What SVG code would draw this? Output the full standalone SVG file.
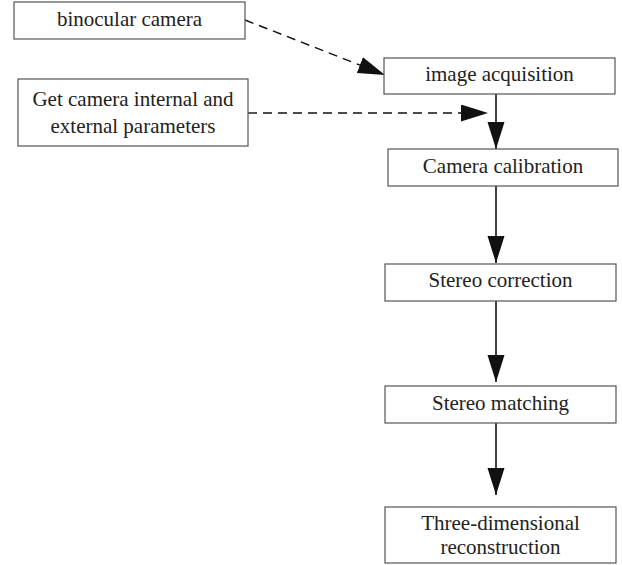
<svg xmlns="http://www.w3.org/2000/svg" width="622" height="565" viewBox="0 0 622 565">
<defs>
<style>
.box{fill:#fff;stroke:#555;stroke-width:1.2}
.t{font-family:"Liberation Serif","Times New Roman",serif;font-size:21px;fill:#222;text-anchor:middle}
.solid{stroke:#111;stroke-width:1.6;fill:none}
.dash{stroke:#111;stroke-width:1.4;fill:none;stroke-dasharray:9 6}
</style>
<marker id="ah" markerUnits="userSpaceOnUse" markerWidth="28" markerHeight="18" refX="27" refY="8.5" orient="auto">
<path d="M0,0 L27,8.5 L0,17 z" fill="#111"/>
</marker>
</defs>
<g id="connectors">
<line class="dash" x1="245" y1="20" x2="385" y2="75" marker-end="url(#ah)"/>
<line class="dash" x1="248" y1="113" x2="488" y2="113" marker-end="url(#ah)"/>
<line class="solid" x1="496" y1="94" x2="496" y2="149" marker-end="url(#ah)"/>
<line class="solid" x1="496" y1="186" x2="496" y2="263" marker-end="url(#ah)"/>
<line class="solid" x1="496" y1="301" x2="496" y2="382" marker-end="url(#ah)"/>
<line class="solid" x1="496" y1="423" x2="496" y2="495" marker-end="url(#ah)"/>
</g>
<g id="binocular"><rect class="box" x="14" y="2" width="231" height="37"/><text class="t" x="129.5" y="26">binocular camera</text></g>
<g id="acquisition"><rect class="box" x="384" y="58" width="231" height="36"/><text class="t" x="499.5" y="81">image acquisition</text></g>
<g id="params"><rect class="box" x="18" y="79" width="230" height="67"/><text class="t" x="133" y="106">Get camera internal and</text><text class="t" x="133" y="133">external parameters</text></g>
<g id="calibration"><rect class="box" x="388" y="149" width="230" height="37"/><text class="t" x="503" y="173">Camera calibration</text></g>
<g id="correction"><rect class="box" x="385" y="264" width="231" height="37"/><text class="t" x="500.5" y="287">Stereo correction</text></g>
<g id="matching"><rect class="box" x="385" y="386" width="231" height="37"/><text class="t" x="500.5" y="410">Stereo matching</text></g>
<g id="reconstruction"><rect class="box" x="385" y="507" width="231" height="56"/><text class="t" x="500.5" y="530">Three-dimensional</text><text class="t" x="500.5" y="554">reconstruction</text></g>
</svg>
